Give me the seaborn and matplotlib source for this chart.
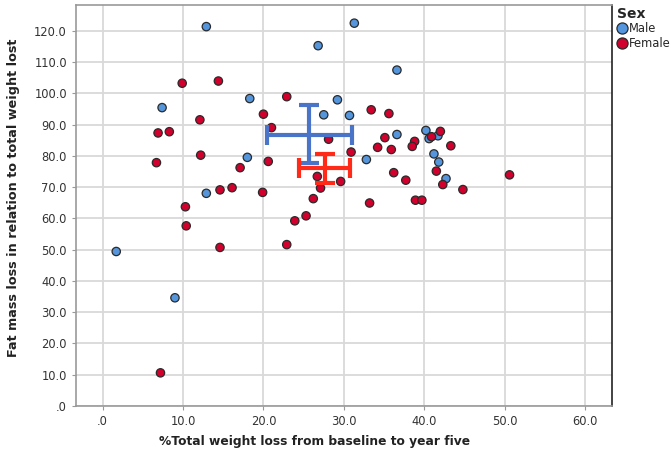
import pandas as pd
import matplotlib
matplotlib.use('Agg')
import matplotlib.pyplot as plt
import seaborn as sns
from matplotlib.ticker import FuncFormatter
from matplotlib.lines import Line2D

# Male points
male_x = [12.9, 7.4, 18.3, 18.0, 12.9, 31.3, 26.8, 36.6, 29.2, 27.5, 30.7, 36.6,
          32.8, 40.2, 41.7, 41.2, 41.8, 42.7, 40.6, 1.7, 9.0]
male_y = [121.3, 95.4, 98.3, 79.5, 68.0, 122.4, 115.2, 107.4, 97.9, 93.1, 92.9, 86.8,
          78.8, 88.1, 86.4, 80.6, 78.0, 72.7, 85.5, 49.4, 34.6]

# Female points
female_x = [9.9, 14.4, 12.1, 6.9, 8.3, 12.2, 6.7, 17.1, 14.6, 16.1, 10.3, 10.4, 14.6, 7.2,
            22.9, 20.0, 21.0, 28.1, 33.4, 35.6, 35.1, 34.2, 35.9, 38.8, 38.5, 30.9, 20.6,
            26.7, 29.6, 27.1, 36.2, 37.7, 40.9, 42.0, 41.5, 42.3, 19.9, 26.2, 43.3, 44.8,
            33.2, 38.9, 39.7, 50.6, 22.9, 23.9, 25.3]
female_y = [103.2, 103.9, 91.5, 87.3, 87.7, 80.2, 77.8, 76.2, 69.1, 69.8, 63.7, 57.6, 50.7, 10.6,
            98.9, 93.3, 89.0, 85.3, 94.7, 93.5, 85.8, 82.7, 82.0, 84.6, 83.0, 81.2, 78.2,
            73.4, 71.8, 69.7, 74.6, 72.2, 86.1, 87.8, 75.1, 70.8, 68.3, 66.3, 83.2, 69.2,
            64.9, 65.8, 65.8, 73.9, 51.6, 59.2, 60.8]

# group means with 95% CI limits
groups = ['Male', 'Female']
mean_x = [25.7, 27.6]
ci_x_low = [20.4, 24.4]
ci_x_high = [31.0, 30.8]
mean_y = [86.8, 76.0]
ci_y_low = [77.7, 71.3]
ci_y_high = [96.1, 80.7]

colors = {'Male': '#5495DB', 'Female': '#D2002C'}
bar_colors = {'Male': '#4A74C8', 'Female': '#FF2A18'}

df = pd.DataFrame({
    'x': male_x + female_x,
    'y': male_y + female_y,
    'Sex': ['Male'] * len(male_x) + ['Female'] * len(female_x),
})

sns.set_style('white')
plt.rcParams['font.family'] = ['DejaVu Sans']

fig, ax = plt.subplots(figsize=(6.71, 4.57), dpi=100)
fig.subplots_adjust(left=0.1133, right=0.9116, top=0.989, bottom=0.1116)

sns.scatterplot(data=df, x='x', y='y', hue='Sex', palette=colors, s=36,
                edgecolor='#2a2a2a', linewidth=0.9, legend=False, ax=ax, zorder=3)

for i, g in enumerate(groups):
    ax.errorbar(mean_x[i], mean_y[i],
                xerr=[[mean_x[i] - ci_x_low[i]], [ci_x_high[i] - mean_x[i]]],
                yerr=[[mean_y[i] - ci_y_low[i]], [ci_y_high[i] - mean_y[i]]],
                fmt='none', ecolor=bar_colors[g], elinewidth=3.0, capsize=7.5,
                capthick=3.0, zorder=4)

ax.set_xlim(-3.3, 63.3)
ax.set_ylim(0, 128.2)
ax.set_xticks(range(0, 61, 10))
ax.set_yticks(range(0, 121, 10))
fmt = FuncFormatter(lambda v, p: ('%.1f' % v).lstrip('0') if v == 0 else '%.1f' % v)
ax.xaxis.set_major_formatter(fmt)
ax.yaxis.set_major_formatter(fmt)
ax.grid(True, color='#d9d9d9', linewidth=1.3)
ax.set_axisbelow(True)
ax.tick_params(axis='both', labelsize=8.3, labelcolor='#333333', length=3,
               color='#999999', width=0.8, bottom=True, left=True)

for side in ['left', 'top', 'bottom']:
    ax.spines[side].set_color('#999999')
    ax.spines[side].set_linewidth(1.2)
ax.spines['right'].set_color('#222222')
ax.spines['right'].set_linewidth(1.2)

ax.set_xlabel('%Total weight loss from baseline to year five', fontsize=8.8,
              fontweight='bold', color='#222222')
ax.set_ylabel('Fat mass loss in relation to total weight lost', fontsize=9.2,
              fontweight='bold', color='#222222')
ax.xaxis.set_label_coords(0.445, -0.072)
ax.yaxis.set_label_coords(-0.104, 0.52)

handles = [Line2D([0], [0], marker='o', linestyle='', markersize=8,
                  markerfacecolor=colors[g], markeredgecolor='#2a2a2a',
                  markeredgewidth=0.9, label=g) for g in groups]
leg = ax.legend(handles=handles, title='Sex', loc='upper left',
                bbox_to_anchor=(1.005, 1.0), frameon=False, fontsize=8.3,
                title_fontproperties={'weight': 'bold', 'size': 10},
                handletextpad=0.05, borderpad=0.2, labelspacing=0.1,
                handlelength=1.0, borderaxespad=0)
leg._legend_box.align = 'left'

fig.savefig('out.png', dpi=100)
